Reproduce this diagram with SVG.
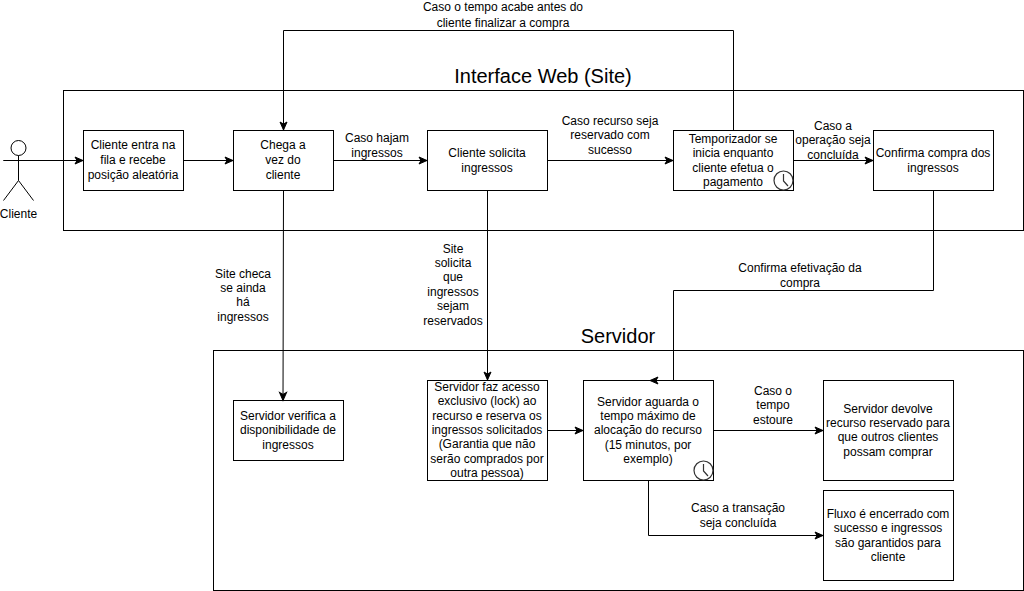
<svg xmlns="http://www.w3.org/2000/svg" width="1024" height="591" viewBox="0 0 1024 591">
<style>
.b{fill:#fff;stroke:#000;stroke-width:1}
.c{fill:none;stroke:#000;stroke-width:1}
.a{marker-end:url(#ah)}
text{font-family:"Liberation Sans",Arial,sans-serif;font-size:12px;fill:#000;text-anchor:middle}
.h{font-size:20px}
.ic{fill:none;stroke:#333;stroke-width:1.2}
</style>
<defs>
<marker id="ah" markerUnits="userSpaceOnUse" markerWidth="12" markerHeight="12" refX="9" refY="5" orient="auto" viewBox="0 0 12 10"><path d="M1 1.500L9 5L1 8.500L3 5Z" fill="#000" stroke="#000" stroke-width="1"/></marker>
</defs>
<rect width="1024" height="591" fill="#fff"/>
<g id="web"><rect x="63.500" y="90.500" width="960" height="140" fill="#fff" stroke="#000"/><text class="h" x="543" y="83">Interface Web (Site)</text></g>
<g id="servidor"><rect x="213.500" y="350.500" width="810" height="240" fill="#fff" stroke="#000"/><text class="h" x="618" y="343">Servidor</text></g>
<g id="ator" fill="none" stroke="#000"><circle cx="18.500" cy="148" r="7.500" fill="#fff"/><path d="M18.500 155.500V180.500M3.500 160.500H33.500M18.500 180.500L3.500 200.500M18.500 180.500L33.500 200.500"/><text x="18.500" y="218" stroke="none" fill="#000">Cliente</text></g>
<g id="n1"><rect class="b" x="83.500" y="130.500" width="100" height="60"/><text x="133" y="149">Cliente entra na</text><text x="133" y="164">fila e recebe</text><text x="133" y="179">posição aleatória</text></g>
<g id="n2"><rect class="b" x="233.500" y="130.500" width="100" height="60"/><text x="283" y="149">Chega a</text><text x="283" y="164">vez do</text><text x="283" y="179">cliente</text></g>
<g id="n3"><rect class="b" x="427.500" y="130.500" width="120" height="60"/><text x="487" y="157">Cliente solicita</text><text x="487" y="172">ingressos</text></g>
<g id="n4"><rect class="b" x="673.500" y="130.500" width="120" height="60"/><text x="733" y="143">Temporizador se</text><text x="733" y="157">inicia enquanto</text><text x="733" y="172">cliente efetua o</text><text x="733" y="186">pagamento</text><circle class="ic" cx="783.500" cy="180.500" r="9.500"/><path class="ic" d="M783.500 174V181L788 186"/></g>
<g id="n5"><rect class="b" x="873.500" y="130.500" width="120" height="60"/><text x="933" y="157">Confirma compra dos</text><text x="933" y="172">ingressos</text></g>
<g id="n6"><rect class="b" x="233.500" y="400.500" width="110" height="60"/><text x="288" y="420">Servidor verifica a</text><text x="288" y="434">disponibilidade de</text><text x="288" y="449">ingressos</text></g>
<g id="n7"><rect class="b" x="427.500" y="380.500" width="120" height="100"/><text x="487" y="391">Servidor faz acesso</text><text x="487" y="405">exclusivo (lock) ao</text><text x="487" y="420">recurso e reserva os</text><text x="487" y="434">ingressos solicitados</text><text x="487" y="448">(Garantia que não</text><text x="487" y="463">serão comprados por</text><text x="487" y="477">outra pessoa)</text></g>
<g id="n8"><rect class="b" x="583.500" y="380.500" width="130" height="100"/><text x="648" y="406">Servidor aguarda o</text><text x="648" y="420">tempo máximo de</text><text x="648" y="434">alocação do recurso</text><text x="648" y="449">(15 minutos, por</text><text x="648" y="463">exemplo)</text><circle class="ic" cx="703.500" cy="470.500" r="9.500"/><path class="ic" d="M703.500 464V471L708 476"/></g>
<g id="n9"><rect class="b" x="823.500" y="380.500" width="130" height="100"/><text x="888" y="413">Servidor devolve</text><text x="888" y="427">recurso reservado para</text><text x="888" y="441">que outros clientes</text><text x="888" y="456">possam comprar</text></g>
<g id="n10"><rect class="b" x="823.500" y="490.500" width="130" height="90"/><text x="888" y="518">Fluxo é encerrado com</text><text x="888" y="532">sucesso e ingressos</text><text x="888" y="547">são garantidos para</text><text x="888" y="561">cliente</text></g>
<g id="connectors">
<path class="c a" d="M3.500 160.500H83"/>
<path class="c a" d="M183.500 160.500H233"/>
<path class="c a" d="M333.500 160.500H427"/>
<path class="c a" d="M547.500 160.500H673"/>
<path class="c a" d="M793.500 160.500H873"/>
<path class="c a" d="M733.500 130.500V30.500H283.500V130"/>
<path class="c a" d="M283.500 190.500L283 400.500"/>
<path class="c a" d="M487.500 190.500V380"/>
<path class="c a" d="M547.500 430.500H583"/>
<path class="c a" d="M933.500 190.500V290.500H673.500V380.500H650"/>
<path class="c a" d="M713.500 430.500H823"/>
<path class="c a" d="M648.500 480.500V535.500H823"/>
</g>
<g id="labels">
<text x="503" y="11">Caso o tempo acabe antes do</text><text x="503" y="27">cliente finalizar a compra</text>
<text x="377" y="142">Caso hajam</text><text x="377" y="157">ingressos</text>
<text x="610" y="125">Caso recurso seja</text><text x="610" y="139">reservado com</text><text x="610" y="154">sucesso</text>
<text x="833" y="130">Caso a</text><text x="833" y="144">operação seja</text><text x="833" y="159">concluída</text>
<text x="243" y="278">Site checa</text><text x="243" y="292">se ainda</text><text x="243" y="306">há</text><text x="243" y="321">ingressos</text>
<text x="453" y="253">Site</text><text x="453" y="267">solicita</text><text x="453" y="281">que</text><text x="453" y="296">ingressos</text><text x="453" y="310">sejam</text><text x="453" y="325">reservados</text>
<text x="800" y="272">Confirma efetivação da</text><text x="800" y="287">compra</text>
<text x="773" y="395">Caso o</text><text x="773" y="409">tempo</text><text x="773" y="424">estoure</text>
<text x="738" y="512">Caso a transação</text><text x="738" y="527">seja concluída</text>
</g>
</svg>
